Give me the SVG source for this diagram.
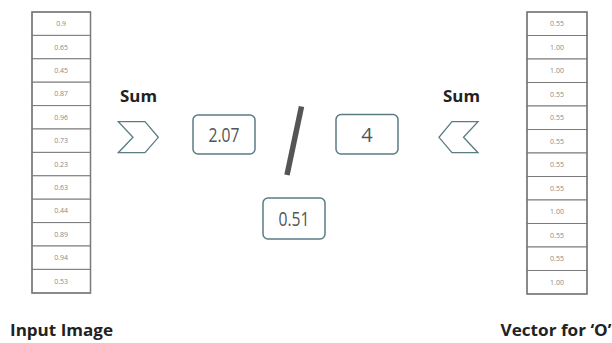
<svg xmlns="http://www.w3.org/2000/svg" width="612" height="343" viewBox="0 0 612 343">
<style>
.cell{fill:#fff;stroke:#7a7a7a;stroke-width:1}
.outer{fill:none;stroke:#7a7a7a;stroke-width:1.5}
.v{font-family:"Open Sans","Noto Sans",sans-serif;font-size:7px;fill:#8a8a8a;text-anchor:middle}
.lbl{font-family:"Open Sans","Noto Sans",sans-serif;font-weight:bold;font-size:16.5px;fill:#222}
.box{fill:#fff;stroke:#5b7b84;stroke-width:1.5}
.num{font-family:"Open Sans","Noto Sans",sans-serif;font-size:20px;fill:#555;text-anchor:middle}
.chev{fill:#fff;stroke:#5b7b84;stroke-width:1.3;stroke-linejoin:miter}
</style>
<g id="input-vector">
<rect class="cell" x="32" y="12" width="58.5" height="23.4"/><text class="v" x="61.2" y="26.2">0.9</text>
<rect class="cell" x="32" y="35.4" width="58.5" height="23.4"/><text class="v" x="61.2" y="49.6">0.65</text>
<rect class="cell" x="32" y="58.8" width="58.5" height="23.4"/><text class="v" x="61.2" y="73">0.45</text>
<rect class="cell" x="32" y="82.2" width="58.5" height="23.4"/><text class="v" x="61.2" y="96.4">0.87</text>
<rect class="cell" x="32" y="105.6" width="58.5" height="23.4"/><text class="v" x="61.2" y="119.8">0.96</text>
<rect class="cell" x="32" y="129" width="58.5" height="23.4"/><text class="v" x="61.2" y="143.2">0.73</text>
<rect class="cell" x="32" y="152.4" width="58.5" height="23.4"/><text class="v" x="61.2" y="166.6">0.23</text>
<rect class="cell" x="32" y="175.8" width="58.5" height="23.4"/><text class="v" x="61.2" y="190">0.63</text>
<rect class="cell" x="32" y="199.2" width="58.5" height="23.4"/><text class="v" x="61.2" y="213.4">0.44</text>
<rect class="cell" x="32" y="222.6" width="58.5" height="23.4"/><text class="v" x="61.2" y="236.8">0.89</text>
<rect class="cell" x="32" y="246" width="58.5" height="23.4"/><text class="v" x="61.2" y="260.2">0.94</text>
<rect class="cell" x="32" y="269.4" width="58.5" height="23.6"/><text class="v" x="61.2" y="283.6">0.53</text>
<rect class="outer" x="32" y="12" width="58.5" height="281"/>
</g>
<g id="o-vector">
<rect class="cell" x="527" y="12" width="60" height="23.5"/><text class="v" x="557" y="26.3">0.55</text>
<rect class="cell" x="527" y="35.5" width="60" height="23.5"/><text class="v" x="557" y="49.8">1.00</text>
<rect class="cell" x="527" y="59" width="60" height="23.5"/><text class="v" x="557" y="73.3">1.00</text>
<rect class="cell" x="527" y="82.5" width="60" height="23.5"/><text class="v" x="557" y="96.8">0.55</text>
<rect class="cell" x="527" y="106" width="60" height="23.5"/><text class="v" x="557" y="120.3">0.55</text>
<rect class="cell" x="527" y="129.5" width="60" height="23.5"/><text class="v" x="557" y="143.8">0.55</text>
<rect class="cell" x="527" y="153" width="60" height="23.5"/><text class="v" x="557" y="167.3">0.55</text>
<rect class="cell" x="527" y="176.5" width="60" height="23.5"/><text class="v" x="557" y="190.8">0.55</text>
<rect class="cell" x="527" y="200" width="60" height="23.5"/><text class="v" x="557" y="214.3">1.00</text>
<rect class="cell" x="527" y="223.5" width="60" height="23.5"/><text class="v" x="557" y="237.8">0.55</text>
<rect class="cell" x="527" y="247" width="60" height="23.5"/><text class="v" x="557" y="261.3">0.55</text>
<rect class="cell" x="527" y="270.5" width="60" height="23.5"/><text class="v" x="557" y="284.8">1.00</text>
<rect class="outer" x="527" y="12" width="60" height="282"/>
</g>
<g id="labels">
<text class="lbl" x="10" y="336" textLength="103" lengthAdjust="spacingAndGlyphs">Input Image</text>
<text class="lbl" x="500.5" y="336" textLength="111" lengthAdjust="spacingAndGlyphs">Vector for ‘O’</text>
</g>
<g id="sum-left">
<text class="lbl" x="120" y="102" textLength="37" lengthAdjust="spacingAndGlyphs">Sum</text>
<polygon class="chev" points="118.3,121.7 145,121.7 158.3,137.3 145,152.7 118.3,152.7 133,137.3"/>
</g>
<g id="sum-right">
<text class="lbl" x="443" y="102" textLength="37" lengthAdjust="spacingAndGlyphs">Sum</text>
<polygon class="chev" points="478,121.7 452,121.7 439,137.3 452,152.7 478,152.7 463.5,137.3"/>
</g>
<g id="box-sum">
<rect class="box" x="193" y="115" width="62" height="39" rx="5"/>
<text class="num" x="224" y="142" textLength="31" lengthAdjust="spacingAndGlyphs">2.07</text>
</g>
<g id="divide">
<line x1="301.5" y1="106.5" x2="287" y2="175" stroke="#555" stroke-width="5.5"/>
</g>
<g id="box-count">
<rect class="box" x="336" y="114.5" width="62" height="39.5" rx="5"/>
<text class="num" x="367" y="141.5">4</text>
</g>
<g id="box-result">
<rect class="box" x="263" y="198" width="62" height="41" rx="5"/>
<text class="num" x="294" y="225.5" textLength="31" lengthAdjust="spacingAndGlyphs">0.51</text>
</g>
<g id="connectors"></g>
</svg>
